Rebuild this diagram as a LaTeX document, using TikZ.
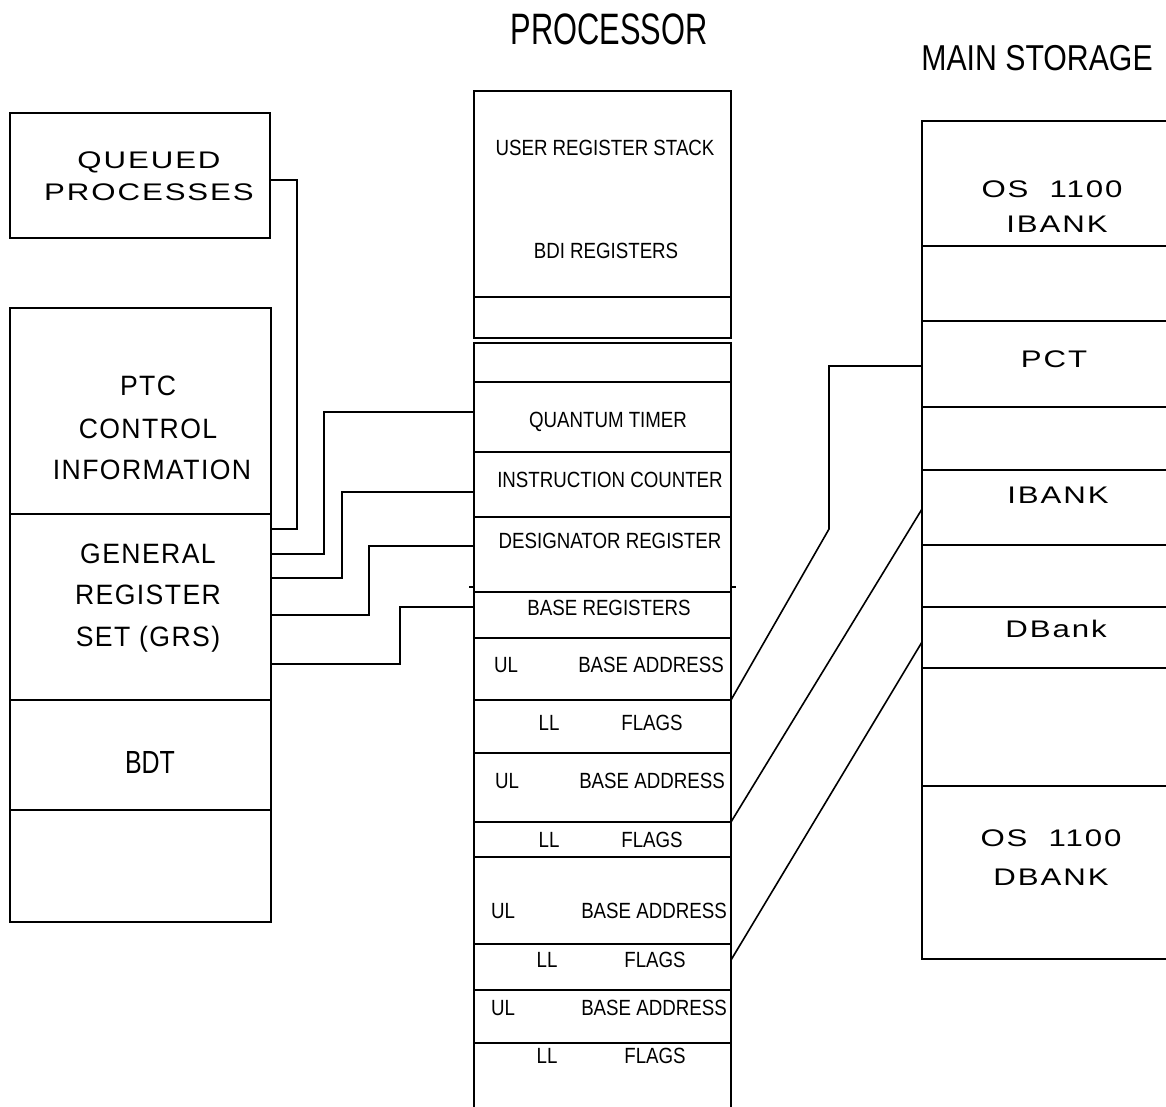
\documentclass[tikz,border=0pt]{standalone}
\usepackage{fontspec}
\setmainfont{Liberation Sans}
\newfontfamily\plotf[FakeStretch=0.85]{Liberation Sans}
\newfontfamily\widef[FakeStretch=1.3,LetterSpace=8]{Liberation Sans}
\newfontfamily\leftf[FakeStretch=0.95,LetterSpace=5]{Liberation Sans}
\newfontfamily\bdtf[FakeStretch=0.78]{Liberation Sans}
\newfontfamily\procf[FakeStretch=0.7]{Liberation Sans}
\newfontfamily\mainf[FakeStretch=0.84]{Liberation Sans}
\usetikzlibrary{fit}
\tikzset{
  cell/.style={draw, line width=1.6pt, rectangle, inner sep=0pt, outer sep=0pt},
  wire/.style={line width=1.6pt},
  lbl/.style={anchor=base, inner sep=0pt, outer sep=0pt},
  mid/.style={lbl, font=\plotf\fontsize{22}{26}\selectfont},
  wide/.style={lbl, font=\widef\fontsize{24}{28}\selectfont},
  lft/.style={lbl, font=\leftf\fontsize{28}{32}\selectfont},
}
\begin{document}
\begin{tikzpicture}[x=1pt,y=-1pt]
\useasboundingbox (0,0) rectangle (1166,1106);

% titles
\node[lbl, font=\procf\fontsize{44}{48}\selectfont] (tproc) at (609,44) {PROCESSOR};
\node[lbl, font=\mainf\fontsize{36}{40}\selectfont] (tmain) at (1037,70) {MAIN STORAGE};

% ---------------- left column
\node[cell, fit={(10,113)(270,238)}] (queued) {};
\node[wide] (tq1) at (149,168) {QUEUED};
\node[wide] (tq2) at (149,200) {PROCESSES};

\node[cell, fit={(10,308)(271,514)}] (ptc) {};
\node[cell, fit={(10,514)(271,700)}] (grs) {};
\node[cell, fit={(10,700)(271,810)}] (bdt) {};
\node[cell, fit={(10,810)(271,922)}] (lbot) {};
\node[lft] (tp1) at (148,395) {PTC};
\node[lft] (tp2) at (148,438) {CONTROL};
\node[lft] (tp3) at (152,479) {INFORMATION};
\node[lft] (tg1) at (148,563) {GENERAL};
\node[lft] (tg2) at (148,604) {REGISTER};
\node[lft] (tg3) at (148,646) {SET (GRS)};
\node[lbl, font=\bdtf\fontsize{32}{36}\selectfont] (tb) at (150,773) {BDT};

% ---------------- processor column
\node[cell, fit={(474,91)(731,297)}] (ptop) {};
\node[cell, fit={(474,297)(731,338)}] (ptop2) {};
\node[mid] (tu) at (605,155) {USER REGISTER STACK};
\node[mid] (tbdi) at (606,258) {BDI REGISTERS};

\node[cell, fit={(474,343)(731,382)}] (c0) {};
\node[cell, fit={(474,382)(731,452)}] (qt) {};
\node[cell, fit={(474,452)(731,517)}] (ic) {};
\node[cell, fit={(474,517)(731,592)}] (dr) {};
\node[cell, fit={(474,592)(731,638)}] (br) {};
\node[cell, fit={(474,638)(731,700)}] (ul1) {};
\node[cell, fit={(474,700)(731,753)}] (ll1) {};
\node[cell, fit={(474,753)(731,822)}] (ul2) {};
\node[cell, fit={(474,822)(731,857)}] (ll2) {};
\node[cell, fit={(474,857)(731,944)}] (ul3) {};
\node[cell, fit={(474,944)(731,990)}] (ll3) {};
\node[cell, fit={(474,990)(731,1043)}] (ul4) {};
\node[cell, fit={(474,1043)(731,1130)}] (ll4) {};
\draw[wire] (469,587) -- (474,587) (731,587) -- (736,587);

\node[mid] (tqt) at (608,427) {QUANTUM TIMER};
\node[mid] (tic) at (610,487) {INSTRUCTION COUNTER};
\node[mid] (tdr) at (610,548) {DESIGNATOR REGISTER};
\node[mid] (tbr) at (609,615) {BASE REGISTERS};

\node[mid] (u1a) at (506,672) {UL};  \node[mid] (u1b) at (651,672) {BASE ADDRESS};
\node[mid] (l1a) at (549,730) {LL};  \node[mid] (l1b) at (652,730) {FLAGS};
\node[mid] (u2a) at (507,788) {UL};  \node[mid] (u2b) at (652,788) {BASE ADDRESS};
\node[mid] (l2a) at (549,847) {LL};  \node[mid] (l2b) at (652,847) {FLAGS};
\node[mid] (u3a) at (503,918) {UL};  \node[mid] (u3b) at (654,918) {BASE ADDRESS};
\node[mid] (l3a) at (547,967) {LL};  \node[mid] (l3b) at (655,967) {FLAGS};
\node[mid] (u4a) at (503,1015) {UL}; \node[mid] (u4b) at (654,1015) {BASE ADDRESS};
\node[mid] (l4a) at (547,1063) {LL}; \node[mid] (l4b) at (655,1063) {FLAGS};

% ---------------- main storage column
\node[cell, fit={(922,121)(1180,246)}] (r1) {};
\node[cell, fit={(922,246)(1180,321)}] (r2) {};
\node[cell, fit={(922,321)(1180,407)}] (pct) {};
\node[cell, fit={(922,407)(1180,470)}] (r4) {};
\node[cell, fit={(922,470)(1180,545)}] (ibank) {};
\node[cell, fit={(922,545)(1180,607)}] (r6) {};
\node[cell, fit={(922,607)(1180,668)}] (dbank) {};
\node[cell, fit={(922,668)(1180,786)}] (r8) {};
\node[cell, fit={(922,786)(1180,959)}] (osd) {};

\node[wide] (to1) at (1052,197) {OS\ \ 1100};
\node[wide] (to2) at (1057,232) {IBANK};
\node[wide] (tpct) at (1054,367) {PCT};
\node[wide] (tib) at (1058,503) {IBANK};
\node[wide] (tdb) at (1056,637) {DBank};
\node[wide] (to3) at (1051,846) {OS\ \ 1100};
\node[wide] (to4) at (1051,885) {DBANK};

% ---------------- connector end points
\coordinate (q1) at (270,180);
\coordinate (g1) at (271,529);
\coordinate (g2) at (271,554);
\coordinate (g3) at (271,578);
\coordinate (g4) at (271,615);
\coordinate (g5) at (271,664);
\coordinate (p1) at (474,412);
\coordinate (p2) at (474,492);
\coordinate (p3) at (474,546);
\coordinate (p4) at (474,607);
\coordinate (a1) at (731,700);
\coordinate (a2) at (731,822);
\coordinate (a3) at (731,960);
\coordinate (m1) at (922,366);
\coordinate (m2) at (922,509);
\coordinate (m3) at (922,642);

% ---------------- connectors
\draw[wire] (q1) -- ++(27,0) |- (g1);
\draw[wire] (g2) -- ++(53,0) |- (p1);
\draw[wire] (g3) -- ++(71,0) |- (p2);
\draw[wire] (g4) -- ++(98,0) |- (p3);
\draw[wire] (g5) -- ++(129,0) |- (p4);
\draw[wire] (m1) -| (829,529) -- (a1);
\draw[wire] (a2) -- (m2);
\draw[wire] (a3) -- (m3);
\end{tikzpicture}
\end{document}
